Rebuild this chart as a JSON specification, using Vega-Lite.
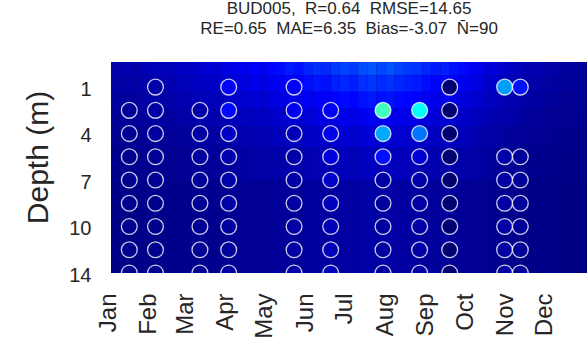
{
  "$schema": "https://vega.github.io/schema/vega-lite/v6.json",
  "width": 476,
  "height": 211,
  "autosize": {"type": "none"},
  "padding": {"left": 111, "top": 62, "right": 0, "bottom": 84},
  "background": "white",
  "config": {"font": "Liberation Sans", "view": {"stroke": null, "fill": "#00008A"}},
  "title": {
    "text": ["BUD005,\u00a0 R=0.64\u00a0 RMSE=14.65", "RE=0.65\u00a0 MAE=6.35\u00a0 Bias=-3.07\u00a0 N\u0304=90"],
    "fontSize": 17,
    "fontWeight": "normal",
    "font": "Liberation Sans",
    "color": "#262626",
    "lineHeight": 20,
    "anchor": "middle",
    "offset": 24
  },
  "datasets": {
    "bg": [
      {"t0":"2001-01-01","t1":"2001-01-08","b0":4,"b1":3.4,"b2":2.8,"b3":2.2,"b4":1.7,"b5":1.2,"b6":0.7},
      {"t0":"2001-01-08","t1":"2001-01-15","b0":4.5,"b1":3.8,"b2":3.2,"b3":2.5,"b4":1.9,"b5":1.4,"b6":0.8},
      {"t0":"2001-01-15","t1":"2001-01-22","b0":4,"b1":3.4,"b2":2.8,"b3":2.2,"b4":1.7,"b5":1.2,"b6":0.7},
      {"t0":"2001-01-22","t1":"2001-01-29","b0":5,"b1":4.3,"b2":3.5,"b3":2.8,"b4":2.1,"b5":1.5,"b6":0.9},
      {"t0":"2001-01-29","t1":"2001-02-05","b0":5.5,"b1":4.7,"b2":3.9,"b3":3.0,"b4":2.3,"b5":1.7,"b6":1.0},
      {"t0":"2001-02-05","t1":"2001-02-12","b0":6,"b1":5.1,"b2":4.2,"b3":3.3,"b4":2.5,"b5":1.8,"b6":1.1},
      {"t0":"2001-02-12","t1":"2001-02-19","b0":5.5,"b1":4.7,"b2":3.9,"b3":3.0,"b4":2.3,"b5":1.7,"b6":1.0},
      {"t0":"2001-02-19","t1":"2001-02-26","b0":6.5,"b1":5.5,"b2":4.6,"b3":3.6,"b4":2.7,"b5":2.0,"b6":1.2},
      {"t0":"2001-02-26","t1":"2001-03-05","b0":7,"b1":6.0,"b2":4.9,"b3":3.9,"b4":2.9,"b5":2.1,"b6":1.3},
      {"t0":"2001-03-05","t1":"2001-03-12","b0":7.5,"b1":6.4,"b2":5.3,"b3":4.1,"b4":3.2,"b5":2.3,"b6":1.4},
      {"t0":"2001-03-12","t1":"2001-03-19","b0":8.5,"b1":7.2,"b2":6.0,"b3":4.7,"b4":3.6,"b5":2.6,"b6":1.5},
      {"t0":"2001-03-19","t1":"2001-03-26","b0":8,"b1":6.8,"b2":5.6,"b3":4.4,"b4":3.4,"b5":2.4,"b6":1.4},
      {"t0":"2001-03-26","t1":"2001-04-02","b0":9.5,"b1":8.1,"b2":6.7,"b3":5.2,"b4":4.0,"b5":2.9,"b6":1.7},
      {"t0":"2001-04-02","t1":"2001-04-09","b0":10.5,"b1":8.9,"b2":7.4,"b3":5.8,"b4":4.4,"b5":3.2,"b6":1.9},
      {"t0":"2001-04-09","t1":"2001-04-16","b0":11,"b1":9.4,"b2":7.7,"b3":6.1,"b4":4.6,"b5":3.3,"b6":2.0},
      {"t0":"2001-04-16","t1":"2001-04-23","b0":12,"b1":10.2,"b2":8.4,"b3":6.6,"b4":5.0,"b5":3.6,"b6":2.2},
      {"t0":"2001-04-23","t1":"2001-04-30","b0":11.5,"b1":9.8,"b2":8.1,"b3":6.3,"b4":4.8,"b5":3.5,"b6":2.1},
      {"t0":"2001-04-30","t1":"2001-05-07","b0":13,"b1":11.1,"b2":9.1,"b3":7.2,"b4":5.5,"b5":3.9,"b6":2.3},
      {"t0":"2001-05-07","t1":"2001-05-14","b0":13.5,"b1":11.5,"b2":9.5,"b3":7.4,"b4":5.7,"b5":4.1,"b6":2.4},
      {"t0":"2001-05-14","t1":"2001-05-21","b0":15,"b1":12.8,"b2":10.5,"b3":8.3,"b4":6.3,"b5":4.5,"b6":2.7},
      {"t0":"2001-05-21","t1":"2001-05-28","b0":14,"b1":11.9,"b2":9.8,"b3":7.7,"b4":5.9,"b5":4.2,"b6":2.5},
      {"t0":"2001-05-28","t1":"2001-06-04","b0":16,"b1":13.6,"b2":11.2,"b3":8.8,"b4":6.7,"b5":4.8,"b6":2.9},
      {"t0":"2001-06-04","t1":"2001-06-11","b0":17,"b1":14.5,"b2":11.9,"b3":9.4,"b4":7.1,"b5":5.1,"b6":3.1},
      {"t0":"2001-06-11","t1":"2001-06-18","b0":16.5,"b1":14.0,"b2":11.6,"b3":9.1,"b4":6.9,"b5":5.0,"b6":3.0},
      {"t0":"2001-06-18","t1":"2001-06-25","b0":18,"b1":15.3,"b2":12.6,"b3":9.9,"b4":7.6,"b5":5.4,"b6":3.2},
      {"t0":"2001-06-25","t1":"2001-07-02","b0":19,"b1":16.2,"b2":13.3,"b3":10.5,"b4":8.0,"b5":5.7,"b6":3.4},
      {"t0":"2001-07-02","t1":"2001-07-09","b0":18,"b1":15.3,"b2":12.6,"b3":9.9,"b4":7.6,"b5":5.4,"b6":3.2},
      {"t0":"2001-07-09","t1":"2001-07-16","b0":20,"b1":17.0,"b2":14.0,"b3":11.0,"b4":8.4,"b5":6.0,"b6":3.6},
      {"t0":"2001-07-16","t1":"2001-07-23","b0":21,"b1":17.9,"b2":14.7,"b3":11.6,"b4":8.8,"b5":6.3,"b6":3.8},
      {"t0":"2001-07-23","t1":"2001-07-30","b0":19.5,"b1":16.6,"b2":13.7,"b3":10.7,"b4":8.2,"b5":5.9,"b6":3.5},
      {"t0":"2001-07-30","t1":"2001-08-06","b0":20.5,"b1":17.4,"b2":14.4,"b3":11.3,"b4":8.6,"b5":6.2,"b6":3.7},
      {"t0":"2001-08-06","t1":"2001-08-13","b0":19,"b1":16.2,"b2":13.3,"b3":10.5,"b4":8.0,"b5":5.7,"b6":3.4},
      {"t0":"2001-08-13","t1":"2001-08-20","b0":18,"b1":15.3,"b2":12.6,"b3":9.9,"b4":7.6,"b5":5.4,"b6":3.2},
      {"t0":"2001-08-20","t1":"2001-08-27","b0":17.5,"b1":14.9,"b2":12.3,"b3":9.6,"b4":7.4,"b5":5.3,"b6":3.2},
      {"t0":"2001-08-27","t1":"2001-09-03","b0":16,"b1":13.6,"b2":11.2,"b3":8.8,"b4":6.7,"b5":4.8,"b6":2.9},
      {"t0":"2001-09-03","t1":"2001-09-10","b0":15,"b1":12.8,"b2":10.5,"b3":8.3,"b4":6.3,"b5":4.5,"b6":2.7},
      {"t0":"2001-09-10","t1":"2001-09-17","b0":15.5,"b1":13.2,"b2":10.9,"b3":8.5,"b4":6.5,"b5":4.7,"b6":2.8},
      {"t0":"2001-09-17","t1":"2001-09-24","b0":14,"b1":11.9,"b2":9.8,"b3":7.7,"b4":5.9,"b5":4.2,"b6":2.5},
      {"t0":"2001-09-24","t1":"2001-10-01","b0":13,"b1":11.1,"b2":9.1,"b3":7.2,"b4":5.5,"b5":3.9,"b6":2.3},
      {"t0":"2001-10-01","t1":"2001-10-08","b0":11.5,"b1":9.8,"b2":8.1,"b3":6.3,"b4":4.8,"b5":3.5,"b6":2.1},
      {"t0":"2001-10-08","t1":"2001-10-15","b0":10.5,"b1":8.9,"b2":7.4,"b3":5.8,"b4":4.4,"b5":3.2,"b6":1.9},
      {"t0":"2001-10-15","t1":"2001-10-22","b0":9,"b1":7.7,"b2":6.3,"b3":5.0,"b4":3.8,"b5":2.7,"b6":1.6},
      {"t0":"2001-10-22","t1":"2001-10-29","b0":8,"b1":6.8,"b2":5.6,"b3":4.4,"b4":3.4,"b5":2.4,"b6":1.4},
      {"t0":"2001-10-29","t1":"2001-11-05","b0":7,"b1":6.0,"b2":4.9,"b3":3.9,"b4":2.9,"b5":2.1,"b6":1.3},
      {"t0":"2001-11-05","t1":"2001-11-12","b0":6,"b1":5.1,"b2":4.2,"b3":3.3,"b4":2.5,"b5":1.8,"b6":1.1},
      {"t0":"2001-11-12","t1":"2001-11-19","b0":5,"b1":4.3,"b2":3.5,"b3":2.8,"b4":2.1,"b5":1.5,"b6":0.9},
      {"t0":"2001-11-19","t1":"2001-11-26","b0":4.5,"b1":3.8,"b2":3.2,"b3":2.5,"b4":1.9,"b5":1.4,"b6":0.8},
      {"t0":"2001-11-26","t1":"2001-12-03","b0":4,"b1":3.4,"b2":2.8,"b3":2.2,"b4":1.7,"b5":1.2,"b6":0.7},
      {"t0":"2001-12-03","t1":"2001-12-10","b0":3.5,"b1":3.0,"b2":2.5,"b3":1.9,"b4":1.5,"b5":1.1,"b6":0.6},
      {"t0":"2001-12-10","t1":"2001-12-17","b0":3,"b1":2.6,"b2":2.1,"b3":1.7,"b4":1.3,"b5":0.9,"b6":0.5},
      {"t0":"2001-12-17","t1":"2001-12-24","b0":3,"b1":2.6,"b2":2.1,"b3":1.7,"b4":1.3,"b5":0.9,"b6":0.5},
      {"t0":"2001-12-24","t1":"2001-12-31","b0":2.5,"b1":2.1,"b2":1.8,"b3":1.4,"b4":1.1,"b5":0.8,"b6":0.5},
      {"t0":"2001-12-31","t1":"2002-01-07","b0":2.5,"b1":2.1,"b2":1.8,"b3":1.4,"b4":1.1,"b5":0.8,"b6":0.5}
    ],
    "obs": [
      {"date":"2001-01-15","level":2,"v":2.5},{"date":"2001-01-15","level":3,"v":2},{"date":"2001-01-15","level":4,"v":1.5},{"date":"2001-01-15","level":5,"v":1.5},{"date":"2001-01-15","level":6,"v":1.5},{"date":"2001-01-15","level":7,"v":1.5},{"date":"2001-01-15","level":8,"v":1.5},{"date":"2001-01-15","level":9,"v":1.5},
      {"date":"2001-02-04","level":1,"v":4},{"date":"2001-02-04","level":2,"v":3.5},{"date":"2001-02-04","level":3,"v":3},{"date":"2001-02-04","level":4,"v":2},{"date":"2001-02-04","level":5,"v":2},{"date":"2001-02-04","level":6,"v":1.5},{"date":"2001-02-04","level":7,"v":1.5},{"date":"2001-02-04","level":8,"v":1.5},{"date":"2001-02-04","level":9,"v":1.5},
      {"date":"2001-03-10","level":2,"v":4},{"date":"2001-03-10","level":3,"v":3.5},{"date":"2001-03-10","level":4,"v":3},{"date":"2001-03-10","level":5,"v":2.5},{"date":"2001-03-10","level":6,"v":2},{"date":"2001-03-10","level":7,"v":2},{"date":"2001-03-10","level":8,"v":2},{"date":"2001-03-10","level":9,"v":2},
      {"date":"2001-04-01","level":1,"v":12.5},{"date":"2001-04-01","level":2,"v":13},{"date":"2001-04-01","level":3,"v":6.5},{"date":"2001-04-01","level":4,"v":4.5},{"date":"2001-04-01","level":5,"v":4},{"date":"2001-04-01","level":6,"v":3.5},{"date":"2001-04-01","level":7,"v":3},{"date":"2001-04-01","level":8,"v":3},{"date":"2001-04-01","level":9,"v":3},
      {"date":"2001-05-21","level":1,"v":12},{"date":"2001-05-21","level":2,"v":11},{"date":"2001-05-21","level":3,"v":5.5},{"date":"2001-05-21","level":4,"v":4},{"date":"2001-05-21","level":5,"v":3.5},{"date":"2001-05-21","level":6,"v":3.5},{"date":"2001-05-21","level":7,"v":3.5},{"date":"2001-05-21","level":8,"v":3.5},{"date":"2001-05-21","level":9,"v":3.5},
      {"date":"2001-06-18","level":2,"v":12},{"date":"2001-06-18","level":3,"v":10.5},{"date":"2001-06-18","level":4,"v":9},{"date":"2001-06-18","level":5,"v":7},{"date":"2001-06-18","level":6,"v":6},{"date":"2001-06-18","level":7,"v":5.5},{"date":"2001-06-18","level":8,"v":5.5},{"date":"2001-06-18","level":9,"v":5.5},
      {"date":"2001-07-28","level":2,"v":44},{"date":"2001-07-28","level":3,"v":29},{"date":"2001-07-28","level":4,"v":14},{"date":"2001-07-28","level":5,"v":3.5},{"date":"2001-07-28","level":6,"v":3},{"date":"2001-07-28","level":7,"v":3},{"date":"2001-07-28","level":8,"v":3},{"date":"2001-07-28","level":9,"v":3},
      {"date":"2001-08-25","level":2,"v":38},{"date":"2001-08-25","level":3,"v":24},{"date":"2001-08-25","level":4,"v":8},{"date":"2001-08-25","level":5,"v":4},{"date":"2001-08-25","level":6,"v":3.5},{"date":"2001-08-25","level":7,"v":3.5},{"date":"2001-08-25","level":8,"v":3.5},{"date":"2001-08-25","level":9,"v":3.5},
      {"date":"2001-09-17","level":1,"v":-2},{"date":"2001-09-17","level":2,"v":-2},{"date":"2001-09-17","level":3,"v":-2},{"date":"2001-09-17","level":4,"v":-2},{"date":"2001-09-17","level":5,"v":-2},{"date":"2001-09-17","level":6,"v":-2},{"date":"2001-09-17","level":7,"v":-2},{"date":"2001-09-17","level":8,"v":-2},{"date":"2001-09-17","level":9,"v":-2},
      {"date":"2001-10-29","level":1,"v":28},{"date":"2001-10-29","level":4,"v":4},{"date":"2001-10-29","level":5,"v":3.5},{"date":"2001-10-29","level":6,"v":3.5},{"date":"2001-10-29","level":7,"v":3.5},{"date":"2001-10-29","level":8,"v":3.5},{"date":"2001-10-29","level":9,"v":3.5},
      {"date":"2001-11-10","level":1,"v":14},{"date":"2001-11-10","level":4,"v":2.5},{"date":"2001-11-10","level":5,"v":2.5},{"date":"2001-11-10","level":6,"v":2.5},{"date":"2001-11-10","level":7,"v":2.5},{"date":"2001-11-10","level":8,"v":2.5},{"date":"2001-11-10","level":9,"v":2.5}
    ]
  },
  "layer": [
    {
      "data": {"name": "bg"},
      "transform": [
        {"fold": ["b0", "b1", "b2", "b3", "b4", "b5", "b6"], "as": ["band", "v"]},
        {"lookup": "band", "from": {"data": {"values": [
          {"band":"b0","y0":-0.08,"y1":0.5},
          {"band":"b1","y0":0.5,"y1":1.2},
          {"band":"b2","y0":1.2,"y1":1.9},
          {"band":"b3","y0":1.9,"y1":2.7},
          {"band":"b4","y0":2.7,"y1":3.6},
          {"band":"b5","y0":3.6,"y1":5.0},
          {"band":"b6","y0":5.0,"y1":9.0}
        ]}, "key": "band", "fields": ["y0", "y1"]}}
      ],
      "mark": {"type": "rect", "clip": true},
      "encoding": {
        "x": {
          "field": "t0", "type": "temporal",
          "scale": {"type": "utc", "domain": [{"year": 2001, "month": 1, "date": 1, "utc": true}, {"year": 2001, "month": 12, "date": 31, "utc": true}]},
          "axis": {
            "values": [
              {"year": 2001, "month": 1, "date": 1, "utc": true},
              {"year": 2001, "month": 2, "date": 1, "utc": true},
              {"year": 2001, "month": 3, "date": 1, "utc": true},
              {"year": 2001, "month": 4, "date": 1, "utc": true},
              {"year": 2001, "month": 5, "date": 1, "utc": true},
              {"year": 2001, "month": 6, "date": 1, "utc": true},
              {"year": 2001, "month": 7, "date": 1, "utc": true},
              {"year": 2001, "month": 8, "date": 1, "utc": true},
              {"year": 2001, "month": 9, "date": 1, "utc": true},
              {"year": 2001, "month": 10, "date": 1, "utc": true},
              {"year": 2001, "month": 11, "date": 1, "utc": true},
              {"year": 2001, "month": 12, "date": 1, "utc": true}
            ],
            "format": "%b",
            "labelAngle": 270,
            "labelAlign": "right",
            "labelBaseline": "middle",
            "labelPadding": 20,
            "labelOffset": -3,
            "ticks": false,
            "tickSize": 0,
            "domain": false,
            "grid": false,
            "title": null,
            "labelFontSize": 24,
            "labelFont": "Liberation Sans",
            "labelColor": "#262626",
            "labelOverlap": false,
            "labelFlush": false
          }
        },
        "x2": {"field": "t1"},
        "y": {
          "field": "y0", "type": "quantitative",
          "scale": {"domain": [-0.08, 9], "reverse": true, "nice": false, "zero": false},
          "axis": {
            "values": [1, 3, 5, 7, 9],
            "labelExpr": "datum.value == 1 ? '1' : datum.value == 3 ? '4' : datum.value == 5 ? '7' : datum.value == 7 ? '10' : '14'",
            "ticks": false,
            "tickSize": 0,
            "domain": false,
            "grid": false,
            "labelPadding": 20,
            "labelOffset": 2,
            "labelFontSize": 20,
            "labelFont": "Liberation Sans",
            "labelColor": "#262626",
            "labelOverlap": false,
            "labelFlush": false,
            "title": "Depth (m)",
            "titleFont": "Liberation Sans",
            "titleFontSize": 30,
            "titleFontWeight": "normal",
            "titleColor": "#262626",
            "titleAngle": 270,
            "titleAlign": "center",
            "titleBaseline": "middle",
            "titleX": -73,
            "titleY": 95
          }
        },
        "y2": {"field": "y1"},
        "color": {
          "field": "v", "type": "quantitative",
          "scale": {"type": "linear", "domain": [-6, 0, 12.5, 37.5, 62.5, 87.5, 100], "range": ["#000050", "#000080", "#0000FF", "#00FFFF", "#FFFF00", "#FF0000", "#800000"], "interpolate": "rgb", "clamp": true},
          "legend": null
        }
      }
    },
    {
      "data": {"name": "obs"},
      "mark": {"type": "circle", "clip": true, "size": 250, "opacity": 1, "stroke": "#ffffff", "strokeWidth": 1.3, "strokeOpacity": 0.8},
      "encoding": {
        "x": {"field": "date", "type": "temporal"},
        "y": {"field": "level", "type": "quantitative"},
        "color": {"field": "v", "type": "quantitative"}
      }
    }
  ]
}
